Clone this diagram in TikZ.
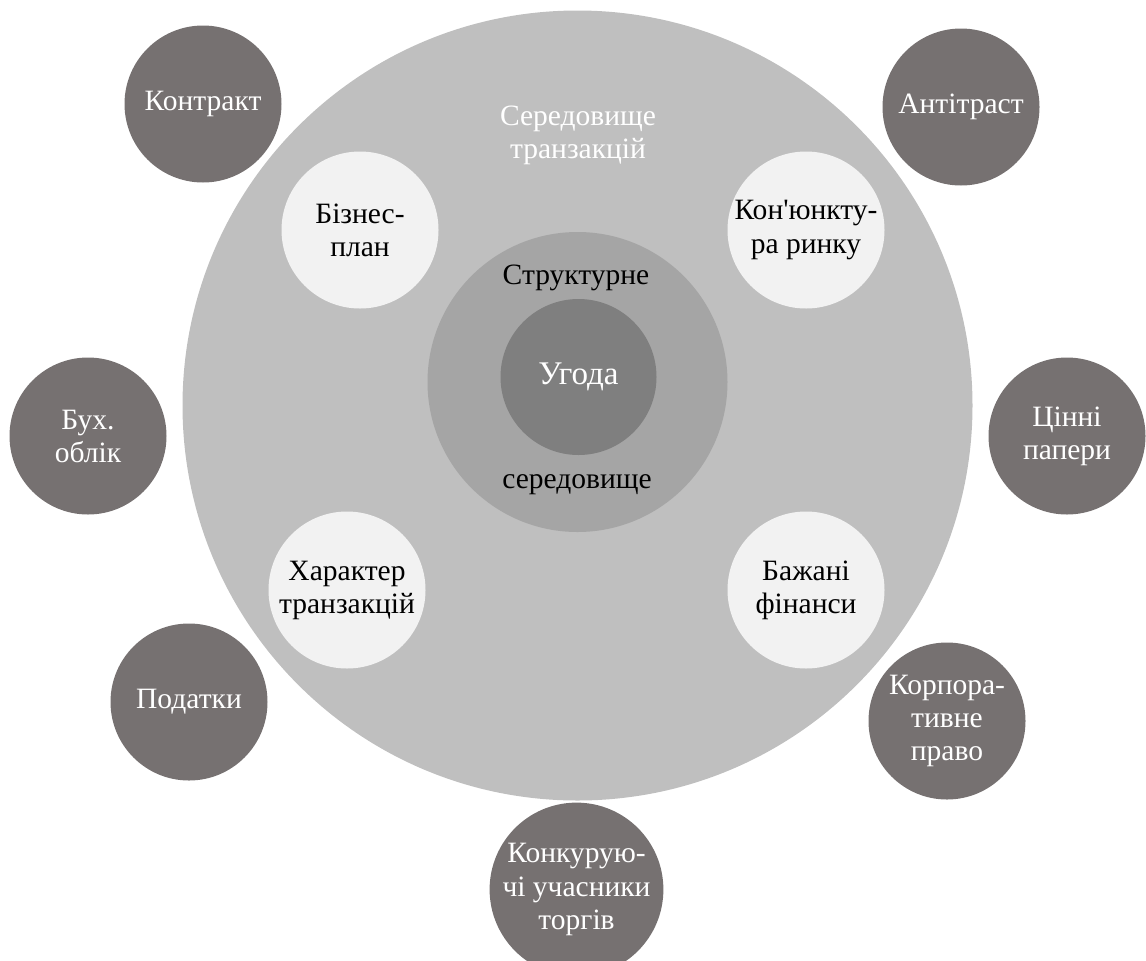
\documentclass[tikz,border=0pt]{standalone}
\usepackage{fontspec}
\setmainfont{Liberation Serif}[Ligatures=TeXOff]
\usepackage{tikz}
\usetikzlibrary{positioning}
\usepackage{xcolor}

\definecolor{envgray}{HTML}{BFBFBF}
\definecolor{structgray}{HTML}{A5A5A5}
\definecolor{dealgray}{HTML}{7F7F7F}
\definecolor{factorgray}{HTML}{767171}
\definecolor{innerlight}{HTML}{F2F2F2}

\begin{document}
\begin{tikzpicture}[
    font=\fontsize{8.4}{9.4}\selectfont,
    ring/.style={circle,draw=none,inner sep=0pt,align=center},
    environment/.style={ring,fill=envgray,minimum size=7.9cm},
    structural/.style={ring,fill=structgray,minimum size=3.0cm},
    deal/.style={ring,fill=dealgray,minimum size=1.56cm,text=white,font=\fontsize{9.4}{10}\selectfont},
    inside/.style={ring,fill=innerlight,minimum size=1.57cm,text=black},
    outside/.style={ring,fill=factorgray,minimum size=1.57cm,text=white},
    caption/.style={align=center,inner sep=0pt}
  ]
    \useasboundingbox (0,0) rectangle (11.46,9.60);

    % nested rings
    \node[environment] (env) at (5.775,5.545) {};
    \node[structural] (struct) at (5.775,5.78) {};
    \node[deal] (deal) at (5.785,5.83) {Угода};

    \node[caption,text=white] (envlabel) at (5.78,8.25) {Середовище\\транзакцій};
    \node[caption] (structtop) at (5.76,6.82) {Структурне};
    \node[caption] (structbottom) at (5.77,4.75) {середовище};

    % factors inside the transaction environment
    \node[inside] (plan) at (3.60,7.30) {Бізнес-\\план};
    \node[inside] (market) at (8.06,7.30) {Кон'юнкту-\\ра ринку};
    \node[inside] (nature) at (3.47,3.70) {Характер\\транзакцій};
    \node[inside] (finance) at (8.06,3.70) {Бажані\\фінанси};

    % outer factors
    \node[outside] (contract) at (2.03,8.56) {Контракт};
    \node[outside] (antitrust) at (9.61,8.53) {Антітраст};
    \node[outside] (accounting) at (0.88,5.24) {Бух.\\облік};
    \node[outside] (securities) at (10.67,5.24) {Цінні\\папери};
    \node[outside] (taxes) at (1.89,2.58) {Податки};
    \node[outside] (corplaw) at (9.47,2.39) {Корпора-\\тивне\\право};
    \node[outside] (rivals) at (5.765,0.705) {Конкурую-\\чі учасники\\торгів};
\end{tikzpicture}
\end{document}
